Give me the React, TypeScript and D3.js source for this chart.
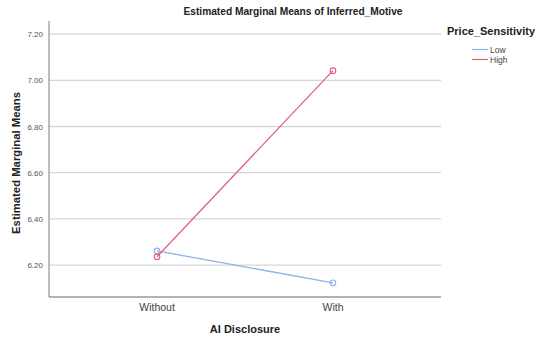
import React, { useRef, useEffect } from "react";
import * as d3 from "d3";

const categories = ["Without", "With"];
const seriesNames = ["Low", "High"];
const lowValues = [6.261, 6.123];
const highValues = [6.236, 7.042];
const yTicks = [6.2, 6.4, 6.6, 6.8, 7.0, 7.2];
const seriesColors = ["#8cb3ea", "#e35d7c"];

export default function App() {
    const svgRef = useRef<SVGSVGElement>(null);

    useEffect(() => {
        if (!svgRef.current) return;
        const svg = d3.select(svgRef.current);
        svg.selectAll("*").remove();

        const left = 49, right = 441, top = 21, bottom = 297;
        const font = "Arial, 'Liberation Sans', sans-serif";

        const x = d3.scalePoint<string>().domain(categories).range([left, right]).padding(0.614);
        const y = d3.scaleLinear().domain([6.0615, 7.257]).range([bottom, top]);

        // gridlines
        svg.append("g")
            .selectAll("line")
            .data(yTicks)
            .join("line")
            .attr("x1", left)
            .attr("x2", right)
            .attr("y1", d => y(d))
            .attr("y2", d => y(d))
            .attr("stroke", "#d6d6d6")
            .attr("stroke-width", 1.3);

        // y tick labels
        svg.append("g")
            .selectAll("text")
            .data(yTicks)
            .join("text")
            .attr("x", left - 6)
            .attr("y", d => y(d) + 3)
            .attr("text-anchor", "end")
            .attr("font-family", font)
            .attr("font-size", 8)
            .attr("fill", "#555")
            .text(d => d.toFixed(2));

        // axes lines
        svg.append("line")
            .attr("x1", left).attr("x2", left)
            .attr("y1", top).attr("y2", bottom)
            .attr("stroke", "#999").attr("stroke-width", 1.3);
        svg.append("line")
            .attr("x1", left).attr("x2", right)
            .attr("y1", bottom).attr("y2", bottom)
            .attr("stroke", "#999").attr("stroke-width", 1.3);

        // x tick labels
        svg.append("g")
            .selectAll("text")
            .data(categories)
            .join("text")
            .attr("x", d => x(d)!)
            .attr("y", bottom + 14)
            .attr("text-anchor", "middle")
            .attr("font-family", font)
            .attr("font-size", 10.5)
            .attr("fill", "#444")
            .text(d => d);

        // series
        const series = [lowValues, highValues];
        const line = d3.line<number>()
            .x((_, i) => x(categories[i])!)
            .y(d => y(d));

        series.forEach((vals, si) => {
            const g = svg.append("g");
            g.append("path")
                .datum(vals)
                .attr("fill", "none")
                .attr("stroke", seriesColors[si])
                .attr("stroke-width", 1.3)
                .attr("d", line);
            g.selectAll("circle")
                .data(vals)
                .join("circle")
                .attr("cx", (_, i) => x(categories[i])!)
                .attr("cy", d => y(d))
                .attr("r", 2.8)
                .attr("fill", "none")
                .attr("stroke", seriesColors[si])
                .attr("stroke-width", 1.1);
        });

        // title
        svg.append("text")
            .attr("x", 293)
            .attr("y", 15)
            .attr("text-anchor", "middle")
            .attr("font-family", font)
            .attr("font-weight", "bold")
            .attr("font-size", 10.2)
            .attr("fill", "#222")
            .text("Estimated Marginal Means of Inferred_Motive");

        // axis titles
        svg.append("text")
            .attr("transform", `translate(20,163) rotate(-90)`)
            .attr("text-anchor", "middle")
            .attr("font-family", font)
            .attr("font-weight", "bold")
            .attr("font-size", 11.3)
            .attr("fill", "#222")
            .text("Estimated Marginal Means");
        svg.append("text")
            .attr("x", 245)
            .attr("y", 333)
            .attr("text-anchor", "middle")
            .attr("font-family", font)
            .attr("font-weight", "bold")
            .attr("font-size", 11)
            .attr("fill", "#222")
            .text("AI Disclosure");

        // legend
        svg.append("text")
            .attr("x", 447)
            .attr("y", 35)
            .attr("font-family", font)
            .attr("font-weight", "bold")
            .attr("font-size", 11)
            .attr("fill", "#222")
            .text("Price_Sensitivity");
        seriesNames.forEach((name, i) => {
            const ly = 49.5 + i * 10;
            svg.append("line")
                .attr("x1", 472).attr("x2", 488)
                .attr("y1", ly).attr("y2", ly)
                .attr("stroke", seriesColors[i]).attr("stroke-width", 1.2);
            svg.append("text")
                .attr("x", 490)
                .attr("y", ly + 3)
                .attr("font-family", font)
                .attr("font-size", 8.5)
                .attr("fill", "#444")
                .text(name);
        });
    }, []);

    return (
        <svg ref={svgRef} width={535} height={341}
            style={{ position: "absolute", left: 0, top: 0, background: "#fff" }} />
    );
}
